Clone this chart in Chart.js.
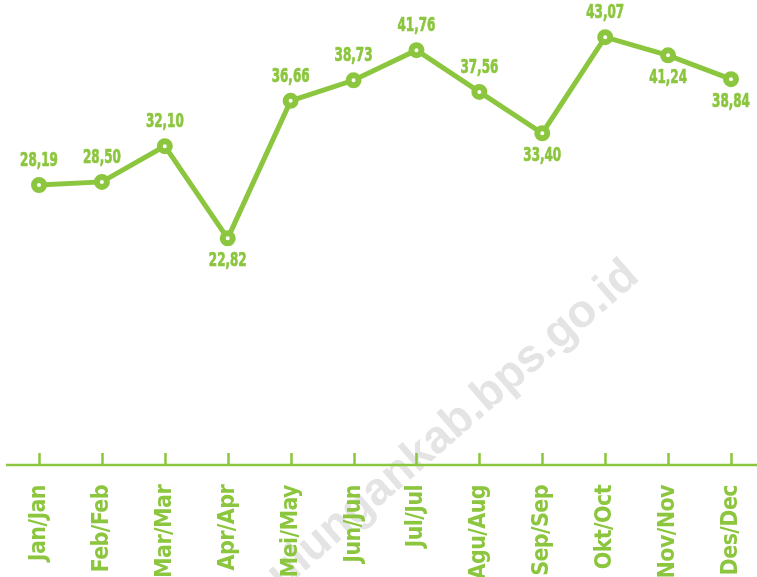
<!DOCTYPE html>
<html>
<head>
<meta charset="utf-8">
<script src="https://cdn.jsdelivr.net/npm/chart.js@4"></script>
<style>
  html, body { margin: 0; padding: 0; background: #fff; }
  #wrap { width: 757px; height: 577px; position: relative; }
</style>
</head>
<body>
<div id="wrap"><canvas id="js--grafik"></canvas></div>
<script>
const months = ['Jan/Jan', 'Feb/Feb', 'Mar/Mar', 'Apr/Apr', 'Mei/May', 'Jun/Jun',
  'Jul/Jul', 'Agu/Aug', 'Sep/Sep', 'Okt/Oct', 'Nov/Nov', 'Des/Dec'];
const values = [28.19, 28.50, 32.10, 22.82, 36.66, 38.73, 41.76, 37.56, 33.40, 43.07, 41.24, 38.84];

const green = '#8cc63f';
const narrow = '"Liberation Sans Narrow", "DejaVu Sans Condensed", "Liberation Sans", sans-serif';
// labels that sit under their point
const below = [3, 8, 10, 11];

const watermark = {
  id: 'watermark',
  beforeDraw(chart) {
    const ctx = chart.ctx;
    ctx.save();
    ctx.translate(641, 279);
    ctx.rotate(-41 * Math.PI / 180);
    ctx.font = 'bold 46px "Liberation Sans", Arial, sans-serif';
    ctx.fillStyle = '#e4e4e4';
    ctx.textAlign = 'right';
    ctx.textBaseline = 'alphabetic';
    ctx.fillText('bulungankab.bps.go.id', 0, 0);
    ctx.restore();
    // tighter text for the tick labels
    ctx.letterSpacing = '-0.6px';
  }
};

const axisLine = {
  id: 'axisLine',
  beforeDatasetsDraw(chart) {
    const ctx = chart.ctx;
    const x = chart.scales.x;
    const y = chart.chartArea.bottom;
    ctx.save();
    ctx.strokeStyle = green;
    ctx.lineWidth = 2.5;
    ctx.beginPath();
    ctx.moveTo(6, y);
    ctx.lineTo(757, y);
    for (let i = 0; i < months.length; i++) {
      const px = Math.round(x.getPixelForTick(i)) + 0.5;
      ctx.moveTo(px, y);
      ctx.lineTo(px, y - 12);
    }
    ctx.stroke();
    ctx.restore();
  }
};

const valueLabels = {
  id: 'valueLabels',
  afterDatasetsDraw(chart) {
    const ctx = chart.ctx;
    const meta = chart.getDatasetMeta(0);
    ctx.save();
    ctx.letterSpacing = '0px';
    ctx.font = 'bold 19px ' + narrow;
    ctx.fillStyle = green;
    ctx.strokeStyle = green;
    ctx.lineWidth = 0.7;
    ctx.textAlign = 'center';
    ctx.textBaseline = 'middle';
    meta.data.forEach((pt, i) => {
      const txt = values[i].toFixed(2).replace('.', ',');
      const dy = below.includes(i) ? 23 : -24;
      ctx.save();
      ctx.translate(pt.x, pt.y + dy);
      ctx.scale(0.7, 1);
      ctx.fillText(txt, 0, 0);
      ctx.strokeText(txt, 0, 0);
      ctx.restore();
    });
    ctx.restore();
  }
};

new Chart(document.getElementById('js--grafik'), {
  type: 'line',
  data: {
    labels: months,
    datasets: [{
      data: values,
      borderColor: green,
      borderWidth: 5,
      pointRadius: 5,
      pointBorderWidth: 6,
      pointBackgroundColor: '#ffffff',
      pointBorderColor: green,
      tension: 0
    }]
  },
  options: {
    responsive: true,
    maintainAspectRatio: false,
    animation: false,
    events: [],
    layout: { padding: { top: 18, left: 39, right: 26, bottom: 0 } },
    plugins: { legend: { display: false }, tooltip: { enabled: false } },
    scales: {
      y: { display: false, min: 0, max: 45 },
      x: {
        offset: false,
        border: { display: false },
        grid: { display: false, drawTicks: false },
        ticks: {
          color: green,
          font: { family: narrow, size: 23, weight: 'bold' },
          minRotation: 90,
          maxRotation: 90,
          padding: 20,
          autoSkip: false
        },
        afterFit(scale) {
          scale.height = 112;
          scale.paddingLeft = 0;
          scale.paddingRight = 0;
        }
      }
    }
  },
  plugins: [watermark, axisLine, valueLabels]
});
</script>
</body>
</html>
